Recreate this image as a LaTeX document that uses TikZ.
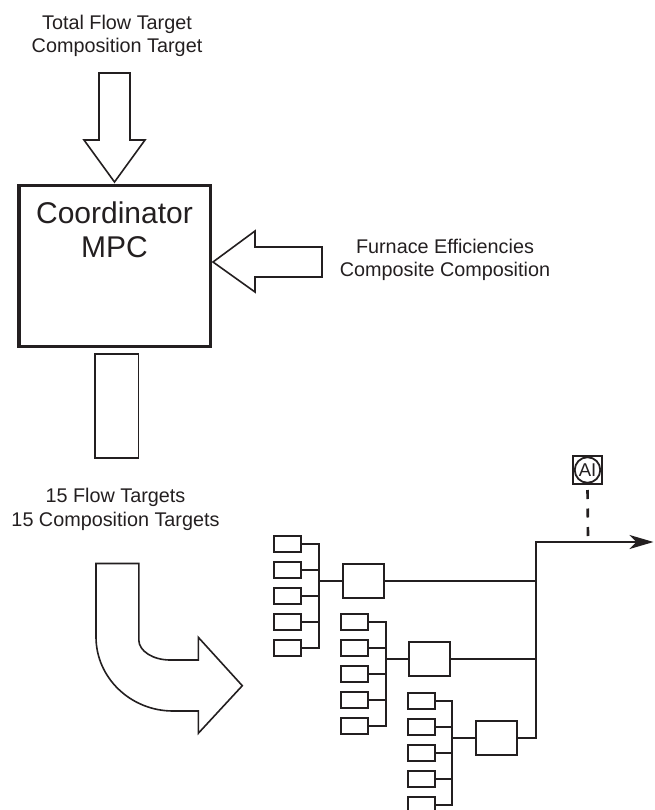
\documentclass[tikz,border=0pt]{standalone}
\usepackage{fontspec}
\setmainfont{Liberation Sans}
\usetikzlibrary{arrows.meta}
\definecolor{ink}{RGB}{35,31,32}
\begin{document}
\begin{tikzpicture}[x=1pt,y=-1pt,line join=miter,
  lbl/.style={font=\fontsize{19.8pt}{23pt}\selectfont, align=center, text=ink, inner sep=0pt},
  bigtext/.style={font=\fontsize{30pt}{34pt}\selectfont, align=center, text=ink, inner sep=0pt},
  blockarrow/.style={draw=ink, line width=1.6pt, fill=white},
  mpcbox/.style={draw=ink, line width=3.5pt, minimum width=191.5pt, minimum height=160.5pt, inner sep=0pt},
  smallbox/.style={draw=ink, line width=2pt, minimum width=27pt, minimum height=16pt, inner sep=0pt},
  midbox/.style={draw=ink, line width=2pt, minimum width=41pt, minimum height=34pt, inner sep=0pt},
  wire/.style={draw=ink, line width=2pt},
  aibox/.style={draw=ink, line width=2pt, minimum width=29pt, minimum height=28pt, inner sep=0pt},
  aicircle/.style={draw=ink, line width=1.8pt, circle, minimum size=25.5pt, inner sep=0pt,
     font=\fontsize{18.5pt}{18.5pt}\selectfont, text=ink}
]
\useasboundingbox (0,0) rectangle (654,810);
\clip (0,0) rectangle (654,810);

% texts
\node[lbl] (ttop) at (117,35.8) {Total Flow Target\\Composition Target};
\node[lbl] (tfur) at (445,259.8) {Furnace Efficiencies\\Composite Composition};
\node[lbl, font=\fontsize{19.8pt}{24.4pt}\selectfont] (t15) at (115.5,509.6) {15 Flow Targets\\15 Composition Targets};

% coordinator
\node[mpcbox] (mpc) at (114.5,266) {};
\node[bigtext] (mpct) at (114.5,229.4) {Coordinator\\MPC};

% block arrows
\draw[blockarrow] (99,73) -- (130,73) -- (130,140) -- (145,140) -- (114.5,182)
   -- (84,140) -- (99,140) -- cycle;
\draw[blockarrow] (322,247) -- (255,247) -- (255,231) -- (213,262) -- (255,292)
   -- (255,277) -- (322,277) -- cycle;
\draw[blockarrow] (94.8,354) rectangle (138.3,458);
\draw[blockarrow] (96,563.5) -- (138.8,563.5) -- (138.8,640)
   .. controls (138.8,651) and (153,660) .. (170,660) -- (198.3,660) -- (198.3,637.3)
   -- (242.3,685.7) -- (198.3,733.3) -- (198.3,711) -- (173,711)
   .. controls (130.6,711) and (96,677.7) .. (96,637) -- cycle;

% bus coordinates
\coordinate (ba) at (319,0);
\coordinate (bb) at (386,0);
\coordinate (bc) at (452,0);
\coordinate (jt) at (536,542);
\coordinate (out) at (653.5,542);

% small boxes
\foreach \i in {1,...,5} {
  \node[smallbox] (a\i) at (287.5,{518+26*\i}) {};
  \node[smallbox] (b\i) at (354,{596+26*\i}) {};
  \node[smallbox] (c\i) at (421,{674.5+26*\i}) {};
}
% middle boxes
\node[midbox] (ma) at (363.5,581) {};
\node[midbox] (mb) at (429.5,659) {};
\node[midbox] (mc) at (496,737.5) {};

% group wiring
\foreach \g/\b in {a/ba,b/bb,c/bc} {
  \draw[wire] (\g1.east) -- (\g1.east -| \b) -- (\g5.east -| \b) -- (\g5.east);
  \foreach \i in {2,3,4} \draw[wire] (\g\i.east) -- (\g\i.east -| \b);
}
\draw[wire] (ma.west -| ba) -- (ma.west);
\draw[wire] (mb.west -| bb) -- (mb.west);
\draw[wire] (mc.west -| bc) -- (mc.west);

% main bus and output
\draw[wire] (ma.east) -- (ma.east -| jt);
\draw[wire] (mb.east) -- (mb.east -| jt);
\draw[wire, -{Stealth[length=24pt,width=14pt,inset=7pt]}] (mc.east) -| (jt) -- (out);

% analyzer
\node[aibox] (ai) at (587.5,470) {};
\node[aicircle] (aic) at (587.5,470) {AI};
\coordinate (dend) at (588,536);
\draw[draw=ink, line width=2.6pt, dash pattern=on 9pt off 9.5pt] ([yshift=-5pt]ai.south) -- (dend);
\end{tikzpicture}
\end{document}
